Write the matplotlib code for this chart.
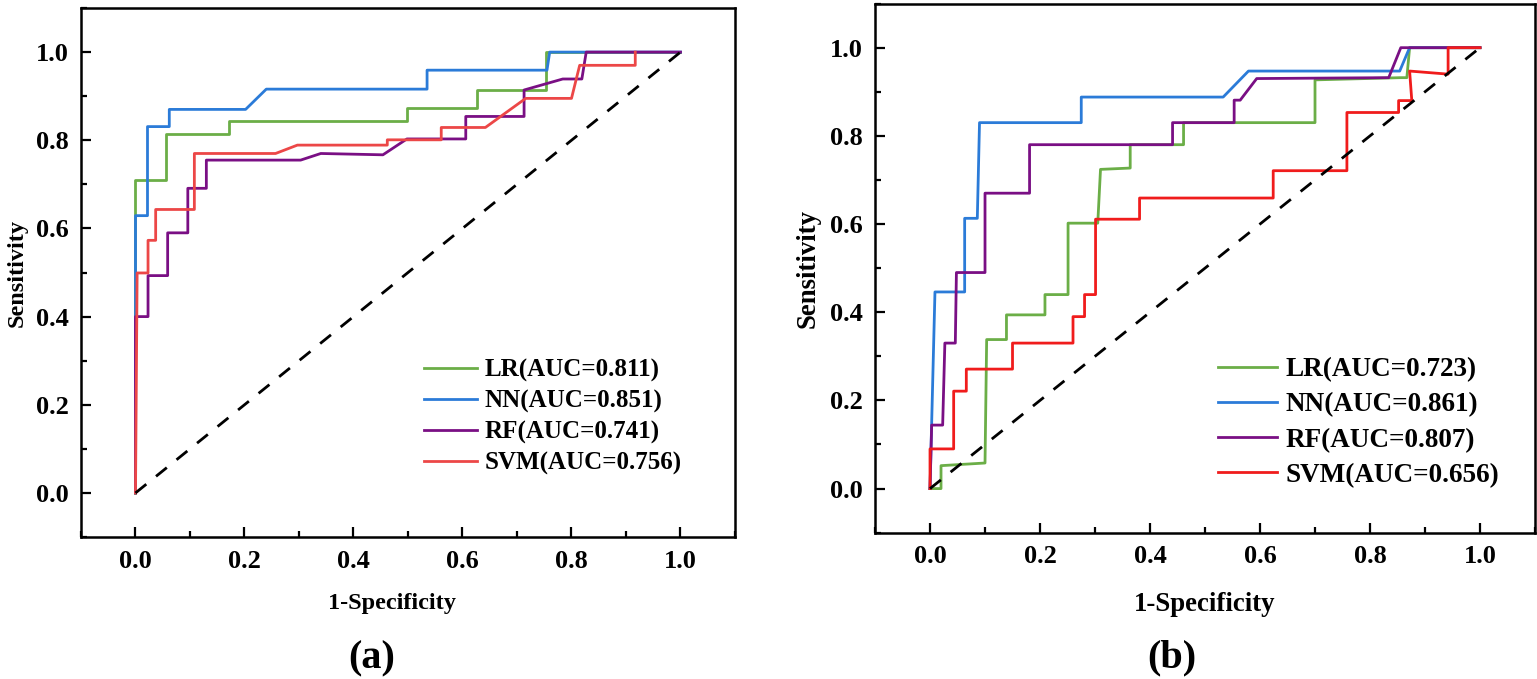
import matplotlib
matplotlib.use('Agg')
import matplotlib.pyplot as plt
from matplotlib.ticker import MultipleLocator

plt.rcParams['font.family'] = 'serif'
plt.rcParams['font.serif'] = ['Liberation Serif', 'DejaVu Serif']
plt.rcParams['font.weight'] = 'bold'
plt.rcParams['axes.labelweight'] = 'bold'

# ---- data ----
# panel (a)
lr_a_x = [0, 0, 0.056, 0.056, 0.172, 0.172, 0.498, 0.498, 0.626, 0.626, 0.753, 0.753, 1.0]
lr_a_y = [0, 0.71, 0.71, 0.814, 0.814, 0.844, 0.844, 0.873, 0.873, 0.913, 0.913, 1.0, 1.0]

nn_a_x = [0, 0, 0.022, 0.022, 0.062, 0.062, 0.202, 0.240, 0.535, 0.535, 0.755, 0.760, 1.0]
nn_a_y = [0, 0.629, 0.629, 0.831, 0.831, 0.870, 0.870, 0.916, 0.916, 0.959, 0.959, 1.0, 1.0]

rf_a_x = [0, 0, 0.023, 0.023, 0.059, 0.059, 0.096, 0.096, 0.130, 0.130, 0.303, 0.340,
          0.454, 0.498, 0.606, 0.606, 0.713, 0.713, 0.784, 0.819, 0.827, 1.0]
rf_a_y = [0, 0.40, 0.40, 0.493, 0.493, 0.590, 0.590, 0.691, 0.691, 0.755, 0.755, 0.770,
          0.767, 0.803, 0.803, 0.854, 0.854, 0.914, 0.939, 0.939, 1.0, 1.0]

svm_a_x = [0, 0.003, 0.023, 0.023, 0.037, 0.037, 0.108, 0.108, 0.257, 0.297, 0.462, 0.462,
           0.561, 0.561, 0.642, 0.716, 0.800, 0.815, 0.917, 0.917]
svm_a_y = [0, 0.499, 0.499, 0.573, 0.573, 0.643, 0.643, 0.770, 0.770, 0.789, 0.789, 0.801,
           0.801, 0.829, 0.829, 0.895, 0.895, 0.970, 0.970, 1.0]

# panel (b)
lr_b_x = [0, 0.020, 0.020, 0.100, 0.103, 0.139, 0.139, 0.209, 0.209, 0.251, 0.251, 0.305,
          0.310, 0.364, 0.364, 0.461, 0.461, 0.700, 0.700, 0.855, 0.867, 0.872, 1.0]
lr_b_y = [0, 0, 0.052, 0.058, 0.338, 0.338, 0.394, 0.394, 0.440, 0.440, 0.602, 0.602,
          0.724, 0.727, 0.780, 0.780, 0.830, 0.830, 0.927, 0.932, 0.932, 1.0, 1.0]

nn_b_x = [0, 0.009, 0.063, 0.063, 0.086, 0.090, 0.275, 0.275, 0.533, 0.579, 0.854, 0.872, 1.0]
nn_b_y = [0, 0.446, 0.446, 0.613, 0.613, 0.830, 0.830, 0.888, 0.888, 0.947, 0.947, 1.0, 1.0]

rf_b_x = [0, 0.003, 0.023, 0.027, 0.046, 0.048, 0.100, 0.100, 0.181, 0.181, 0.441, 0.441,
          0.553, 0.553, 0.564, 0.594, 0.834, 0.856, 1.0]
rf_b_y = [0, 0.144, 0.144, 0.330, 0.330, 0.490, 0.490, 0.670, 0.670, 0.780, 0.780, 0.830,
          0.830, 0.881, 0.881, 0.930, 0.932, 1.0, 1.0]

svm_b_x = [0, 0, 0.043, 0.043, 0.066, 0.066, 0.150, 0.150, 0.260, 0.260, 0.281, 0.281,
           0.301, 0.301, 0.381, 0.381, 0.624, 0.624, 0.758, 0.758, 0.852, 0.852, 0.876,
           0.872, 0.942, 0.942, 1.0]
svm_b_y = [0, 0.090, 0.090, 0.221, 0.221, 0.271, 0.271, 0.330, 0.330, 0.390, 0.390, 0.440,
           0.440, 0.611, 0.611, 0.659, 0.659, 0.721, 0.721, 0.853, 0.853, 0.880, 0.880,
           0.947, 0.940, 1.0, 1.0]

labels_a = ['LR(AUC=0.811)', 'NN(AUC=0.851)', 'RF(AUC=0.741)', 'SVM(AUC=0.756)']
labels_b = ['LR(AUC=0.723)', 'NN(AUC=0.861)', 'RF(AUC=0.807)', 'SVM(AUC=0.656)']

green = '#6BAE47'
blue = '#2B7BD8'
purple = '#7A0F84'
red_a = '#EC4747'
red_b = '#F01C1C'

fig = plt.figure(figsize=(15.37, 6.79), dpi=100)
ax1 = fig.add_axes([0.0527, 0.2091, 0.4255, 0.7791])
ax2 = fig.add_axes([0.5693, 0.2155, 0.4294, 0.7792])


def style_axes(ax, ylab_x, xlab_x, xlab_y, lab_size):
    ax.set_xlim(-0.1, 1.1)
    ax.set_ylim(-0.1, 1.1)
    ax.xaxis.set_minor_locator(MultipleLocator(0.1))
    ax.yaxis.set_minor_locator(MultipleLocator(0.1))
    ax.set_xticks([0, 0.2, 0.4, 0.6, 0.8, 1.0])
    ax.set_yticks([0, 0.2, 0.4, 0.6, 0.8, 1.0])
    ax.tick_params(which='both', direction='in', top=False, right=False, width=1.6)
    ax.tick_params(which='major', length=7.5, labelsize=19, pad=9)
    ax.tick_params(which='minor', length=4)
    for s in ax.spines.values():
        s.set_linewidth(1.8)
    for t in ax.get_xticklabels() + ax.get_yticklabels():
        t.set_fontweight('bold')
    ax.set_xlabel('1-Specificity', fontsize=lab_size)
    ax.set_ylabel('Sensitivity', fontsize=lab_size)
    ax.xaxis.set_label_coords(xlab_x, xlab_y)
    ax.yaxis.set_label_coords(ylab_x, 0.5)


lw = 2.0
dash = (0, (5, 4.5))
ax1.plot(lr_a_x, lr_a_y, color=green, lw=lw, label=labels_a[0])
ax1.plot(nn_a_x, nn_a_y, color=blue, lw=lw, label=labels_a[1])
ax1.plot(rf_a_x, rf_a_y, color=purple, lw=lw, label=labels_a[2])
ax1.plot(svm_a_x, svm_a_y, color=red_a, lw=lw, label=labels_a[3])
ax1.plot([0, 1], [0, 1], color='black', lw=2.0, linestyle=dash)
style_axes(ax1, -0.082, 0.476, -0.105, 17.5)
ax1.legend(loc='upper left', bbox_to_anchor=(0.524, 0.337), frameon=False,
           fontsize=18, handlelength=2.15, handletextpad=0.3, labelspacing=0.3,
           borderpad=0, borderaxespad=0)

ax2.plot(lr_b_x, lr_b_y, color=green, lw=lw, label=labels_b[0])
ax2.plot(nn_b_x, nn_b_y, color=blue, lw=lw, label=labels_b[1])
ax2.plot(rf_b_x, rf_b_y, color=purple, lw=lw, label=labels_b[2])
ax2.plot(svm_b_x, svm_b_y, color=red_b, lw=lw, label=labels_b[3])
ax2.plot([0, 1], [0, 1], color='black', lw=2.0, linestyle=dash)
style_axes(ax2, -0.082, 0.5, -0.112, 19.3)
ax2.legend(loc='upper left', bbox_to_anchor=(0.519, 0.331), frameon=False,
           fontsize=19.5, handlelength=2.2, handletextpad=0.3, labelspacing=0.37,
           borderpad=0, borderaxespad=0)

fig.text(371.7 / 1537, 1 - 659 / 679, '(a)', fontsize=29, ha='center', va='center')
fig.text(1171.7 / 1537, 1 - 658 / 679, '(b)', fontsize=29, ha='center', va='center')

fig.savefig('out.png', dpi=100)
